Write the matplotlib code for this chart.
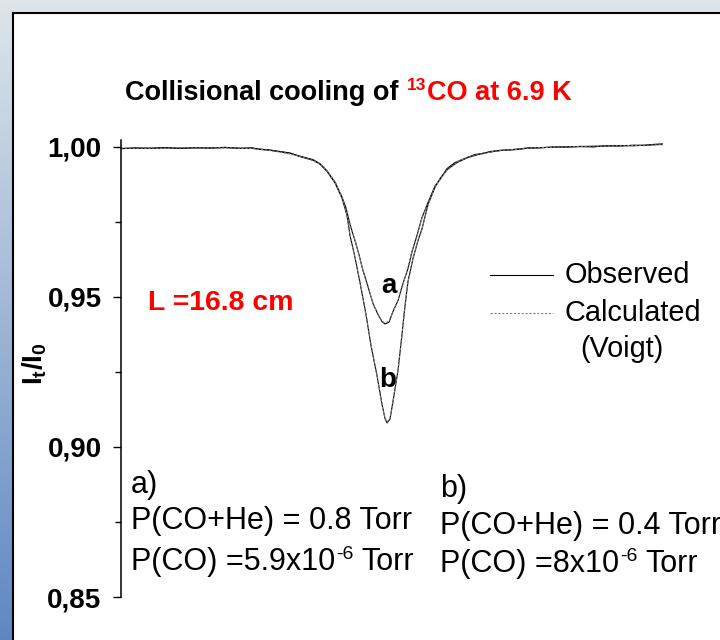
import numpy as np
import matplotlib
matplotlib.use("Agg")
import matplotlib.pyplot as plt
from matplotlib.patches import Rectangle
from matplotlib.lines import Line2D

plt.rcParams['font.family'] = ['Liberation Sans', 'DejaVu Sans']
plt.rcParams['mathtext.fontset'] = 'custom'
plt.rcParams['mathtext.rm'] = 'Liberation Sans'
plt.rcParams['mathtext.it'] = 'Liberation Sans:italic'
plt.rcParams['mathtext.bf'] = 'Liberation Sans:bold'

# channel number along the scan (x axis has no scale)
chan_a = [121, 135, 150, 165, 180, 195, 210, 225, 240, 252,
          260, 270, 280, 290, 300, 313, 320, 327, 335, 342,
          346, 350, 355, 359, 363, 368, 373, 378, 382, 385,
          389, 393, 398, 403, 408, 412, 417, 422, 428, 435,
          440, 447, 455, 460, 468, 475, 483, 490, 500, 515,
          528, 540, 553, 565, 580, 593, 605, 620, 633, 645,
          655, 663]
obs_a = [0.9994, 0.9997, 0.9995, 0.9997, 0.9995, 0.9998, 0.9996, 0.9999, 0.9995, 0.9997,
         0.9993, 0.9990, 0.9985, 0.9980, 0.9969, 0.9958, 0.9944, 0.9920, 0.9883, 0.9833,
         0.9797, 0.9742, 0.9688, 0.9641, 0.9588, 0.9535, 0.9478, 0.9442, 0.9418, 0.9410,
         0.9416, 0.9452, 0.9488, 0.9545, 0.9595, 0.9652, 0.9705, 0.9765, 0.9815, 0.9870,
         0.9891, 0.9928, 0.9948, 0.9955, 0.9966, 0.9975, 0.9978, 0.9985, 0.9988, 0.9992,
         0.9997, 0.9997, 1.0000, 0.9999, 1.0002, 1.0000, 1.0004, 1.0003, 1.0006, 1.0005,
         1.0008, 1.0009]
calc_a = [0.9996, 0.9996, 0.9996, 0.9996, 0.9997, 0.9997, 0.9997, 0.9997, 0.9996, 0.9995,
          0.9993, 0.9989, 0.9984, 0.9978, 0.9970, 0.9957, 0.9945, 0.9922, 0.9885, 0.9835,
          0.9795, 0.9740, 0.9690, 0.9640, 0.9590, 0.9533, 0.9480, 0.9440, 0.9420, 0.9413,
          0.9420, 0.9450, 0.9490, 0.9543, 0.9597, 0.9650, 0.9707, 0.9763, 0.9813, 0.9867,
          0.9893, 0.9925, 0.9945, 0.9957, 0.9966, 0.9973, 0.9979, 0.9983, 0.9988, 0.9993,
          0.9996, 0.9998, 0.9999, 1.0000, 1.0002, 1.0003, 1.0003, 1.0004, 1.0005, 1.0006,
          1.0007, 1.0008]

chan_b = [121, 135, 150, 165, 180, 195, 210, 225, 240, 252,
          260, 270, 280, 290, 300, 313, 320, 327, 335, 342,
          347, 350, 355, 360, 366, 371, 377, 382, 385, 387,
          390, 393, 398, 402, 405, 408, 413, 418, 422,
          428, 435, 440, 447, 455, 460, 468, 475, 483, 490,
          500, 515, 528, 540, 553, 565, 580, 593, 605, 620,
          633, 645, 655, 663]
obs_b = [0.9995, 0.9996, 0.9996, 0.9998, 0.9996, 0.9997, 0.9997, 0.9998, 0.9996, 0.9996,
         0.9992, 0.9989, 0.9984, 0.9979, 0.9968, 0.9956, 0.9943, 0.9919, 0.9880, 0.9830,
         0.9772, 0.9705, 0.9632, 0.9548, 0.9442, 0.9338, 0.9238, 0.9142, 0.9095, 0.9080,
         0.9093, 0.9152, 0.9255, 0.9375, 0.9470, 0.9552, 0.9628, 0.9688, 0.9727,
         0.9808, 0.9866, 0.9895, 0.9924, 0.9944, 0.9953, 0.9965, 0.9972, 0.9979, 0.9983,
         0.9989, 0.9991, 0.9996, 0.9998, 0.9999, 1.0001, 1.0001, 1.0002, 1.0003, 1.0005,
         1.0004, 1.0006, 1.0009, 1.0010]
calc_b = [0.9996, 0.9996, 0.9996, 0.9996, 0.9997, 0.9997, 0.9997, 0.9997, 0.9996, 0.9995,
          0.9992, 0.9988, 0.9983, 0.9977, 0.9968, 0.9955, 0.9942, 0.9919, 0.9882, 0.9830,
          0.9773, 0.9707, 0.9630, 0.9550, 0.9440, 0.9340, 0.9240, 0.9140, 0.9097, 0.9083,
          0.9097, 0.9150, 0.9257, 0.9373, 0.9473, 0.9550, 0.9630, 0.9690, 0.9727,
          0.9807, 0.9867, 0.9893, 0.9923, 0.9943, 0.9955, 0.9965, 0.9972, 0.9978, 0.9983,
          0.9988, 0.9992, 0.9996, 0.9998, 0.9999, 1.0000, 1.0002, 1.0003, 1.0003, 1.0004,
          1.0005, 1.0006, 1.0007, 1.0008]

y_major = [0.85, 0.90, 0.95, 1.00]
y_minor = [0.875, 0.925, 0.975]
y_labels = [f"{v:.2f}".replace(".", ",") for v in y_major]

W, H = 720, 640
fig = plt.figure(figsize=(7.2, 6.4), dpi=100)


def fx(px):
    return px / W


def fy(py):
    return 1 - py / H


def text_run(x, y, pieces):
    # place text pieces one after another on a common baseline (pixels)
    for s, gap, rise, kw in pieces:
        x += gap
        t = fig.text(fx(x), fy(y - rise), s, va='baseline', **kw)
        fig.canvas.draw()
        x = t.get_window_extent().x1


# slide background: blue gradient, white panel with black frame
bg = fig.add_axes([0, 0, 1, 1])
bg.set_axis_off()
top_c = np.array([0.87, 0.90, 0.92])
bot_c = np.array([0.37, 0.53, 0.76])
t = np.linspace(0, 1, 256)[:, None]
grad = top_c * (1 - t) + bot_c * t
bg.imshow(grad[:, None, :], extent=[0, 1, 0, 1], aspect='auto', zorder=0)
bg.set_xlim(0, 1)
bg.set_ylim(0, 1)
bg.add_patch(Rectangle((fx(12.5), -0.05), 1.1, fy(12.5) + 0.05,
                       fc='white', ec='black', lw=1.5, zorder=1))

ax = fig.add_axes([fx(121), fy(597), fx(663) - fx(121), (597 - 140) / H])
ax.patch.set_alpha(0)
for side in ['top', 'right', 'bottom']:
    ax.spines[side].set_visible(False)
ax.spines['left'].set_linewidth(1.1)

ax.plot(chan_a, obs_a, color='black', lw=0.8)
ax.plot(chan_a, calc_a, color='#808080', lw=0.8, ls=(0, (2, 1.5)))
ax.plot(chan_b, obs_b, color='black', lw=0.8)
ax.plot(chan_b, calc_b, color='#808080', lw=0.8, ls=(0, (2, 1.5)))

ax.set_xlim(121, 663)
ax.set_ylim(0.85, 1.00233)
ax.set_xticks([])
ax.set_yticks(y_major, labels=y_labels, fontsize=20, fontweight='bold')
ax.set_yticks(y_minor, minor=True)
ax.tick_params(axis='y', which='major', length=6, width=1, pad=8, direction='out')
ax.tick_params(axis='y', which='minor', length=4, width=1, direction='out')

# title, second half in red
bold = dict(fontsize=19.5, fontweight='bold')
text_run(125, 100, [
    ("Collisional cooling of", 0, 0, bold),
    ("13", 8, 10, dict(fontsize=12.5, fontweight='bold', color='red')),
    ("CO at 6.9 K", 1, 0, dict(bold, color='red')),
])

fig.text(fx(35), fy(364), r"$\mathbf{I_t/I_0}$", rotation=90, fontsize=20,
         ha='center', va='center')

fig.text(fx(148), fy(310), "L =16.8 cm", color='red', fontsize=20.5,
         fontweight='bold', va='baseline')
fig.text(fx(389), fy(286), "a", fontsize=20, fontweight='bold', ha='center', va='center')
fig.text(fx(388), fy(380), "b", fontsize=20, fontweight='bold', ha='center', va='center')

# legend
fig.add_artist(Line2D([fx(490), fx(553)], [fy(275), fy(275)], color='black', lw=0.8))
fig.add_artist(Line2D([fx(490), fx(553)], [fy(313), fy(313)], color='#808080', lw=0.8,
                      ls=(0, (2, 1.5))))
fig.text(fx(565), fy(275), "Observed", fontsize=20.8, va='center')
fig.text(fx(565), fy(313), "Calculated", fontsize=20.8, va='center')
fig.text(fx(580), fy(349), "(Voigt)", fontsize=20.8, va='center')

# experimental conditions
reg = dict(fontsize=22)
sup = dict(fontsize=14)
fig.text(fx(131), fy(493), "a)", va='baseline', **reg)
fig.text(fx(131), fy(529), "P(CO+He) = 0.8 Torr", va='baseline', **reg)
text_run(131, 570, [("P(CO) =5.9x10", 0, 0, reg), ("-6", 1, 11, sup), ("Torr", 8, 0, reg)])
fig.text(fx(440), fy(497), "b)", va='baseline', **reg)
fig.text(fx(440), fy(534), "P(CO+He) = 0.4 Torr", va='baseline', **reg)
text_run(440, 572, [("P(CO) =8x10", 0, 0, reg), ("-6", 1, 11, sup), ("Torr", 8, 0, reg)])

fig.savefig("out.png", dpi=100)
